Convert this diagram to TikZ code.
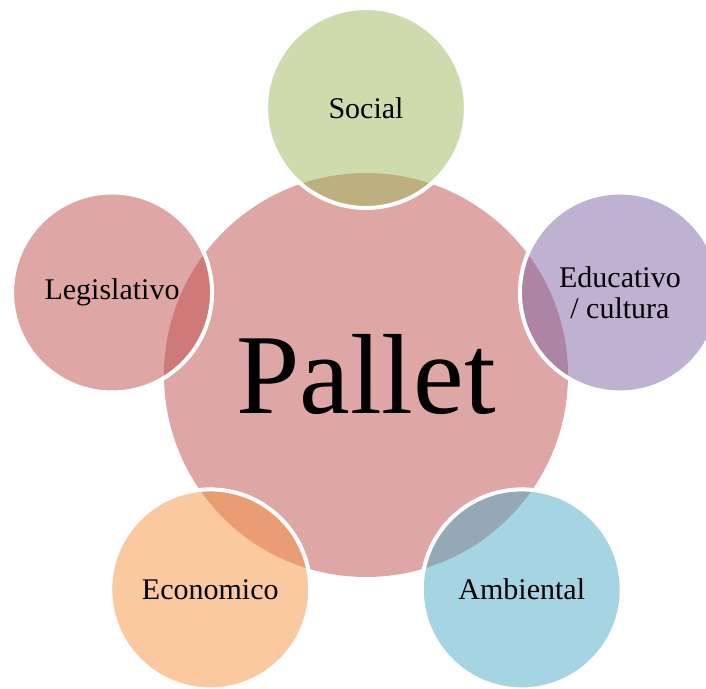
\documentclass[tikz,border=0pt]{standalone}
\usepackage{fontspec}
\setmainfont{Liberation Serif}
\usepackage{xcolor}
\usepackage{tikz}
\usetikzlibrary{positioning}

\definecolor{palletc}{RGB}{191,77,77}
\definecolor{socialc}{RGB}{157,185,91}
\definecolor{educc}{RGB}{125,99,165}
\definecolor{ambc}{RGB}{75,171,197}
\definecolor{ecoc}{RGB}{245,147,65}
\definecolor{legc}{RGB}{191,77,77}

\begin{document}
\begin{tikzpicture}[x=1pt,y=1pt]
        \tikzstyle{every node}=[text=black,text opacity=1]
        \tikzstyle{hub}=[circle,minimum size=404pt,inner sep=0pt,fill opacity=0.5,
            font=\fontsize{114}{114}\selectfont]
        \tikzstyle{sat}=[circle,minimum size=200pt,inner sep=0pt,draw=white,
            line width=4pt,fill opacity=0.5,align=center,
            font=\fontsize{30}{31}\selectfont]

        \useasboundingbox (-366,-313) rectangle (340,375);
        \clip (-366,-313) rectangle (340,375);

        \node[hub, fill=palletc] (P) at (0,0) {Pallet};

        \node[sat, fill=socialc] (S) at (90:267) {Social};
        \node[sat, fill=educc] (E) at (18:267) {Educativo\\/ cultura};
        \node[sat, fill=ambc] (A) at (-54:265) {Ambiental};
        \node[sat, fill=ecoc] (C) at (-126:265) {Economico};
        \node[sat, fill=legc] (L) at (162:267) {Legislativo};
    \end{tikzpicture}
\end{document}
